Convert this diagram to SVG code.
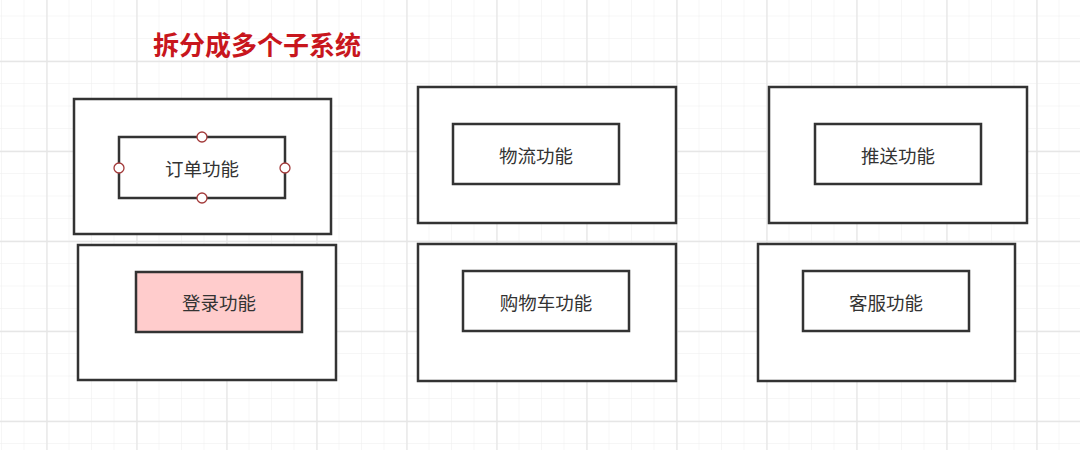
<svg xmlns="http://www.w3.org/2000/svg" width="1080" height="450" viewBox="0 0 1080 450">
  <defs>
    <pattern id="minor" x="2" y="-6" width="22.5" height="22.5" patternUnits="userSpaceOnUse">
      <path d="M22.5 0 V22.5 M0 22.5 H22.5" fill="none" stroke="#eeeeee" stroke-width="1"/>
    </pattern>
    <pattern id="major" x="2" y="-6" width="90" height="90" patternUnits="userSpaceOnUse">
      <path d="M45 0 V90 M0 67.5 H90" fill="none" stroke="#e6e6e6" stroke-width="1.3"/>
    </pattern>
    <style>
      .outer { fill: #ffffff; stroke: #333333; stroke-width: 2.5; }
      .inner { fill: #ffffff; stroke: #333333; stroke-width: 2.5; }
      .pink { fill: #ffcccc; }
      .label { font-family: "Noto Sans CJK SC", "Noto Sans", sans-serif; font-size: 18.5px; fill: #333333; text-anchor: middle; dominant-baseline: central; }
      .title { font-family: "Noto Sans CJK SC", sans-serif; font-size: 26px; font-weight: bold; fill: #c8161d; }
      .handle { fill: #ffffff; stroke: #a33a3a; stroke-width: 1.3; }
    </style>
  </defs>
  <rect width="1080" height="450" fill="#ffffff"/>
  <rect width="1080" height="450" fill="url(#minor)"/>
  <rect width="1080" height="450" fill="url(#major)"/>

  <text class="title" x="153" y="55">拆分成多个子系统</text>

  <g id="connectors"></g>

  <g id="order-system">
    <rect class="outer" x="74" y="99" width="257" height="135"/>
    <rect class="inner" x="119" y="137" width="166" height="61"/>
    <text class="label" x="202" y="168">订单功能</text>
    <circle class="handle" cx="202" cy="137" r="5"/>
    <circle class="handle" cx="202" cy="198" r="5"/>
    <circle class="handle" cx="119" cy="168" r="5"/>
    <circle class="handle" cx="285" cy="168" r="5"/>
  </g>

  <g id="login-system">
    <rect class="outer" x="78" y="245" width="258" height="135"/>
    <rect class="inner pink" x="136" y="272" width="166" height="60"/>
    <text class="label" x="219" y="302">登录功能</text>
  </g>

  <g id="logistics-system">
    <rect class="outer" x="418" y="87" width="258" height="136"/>
    <rect class="inner" x="453" y="124" width="166" height="60"/>
    <text class="label" x="536" y="155">物流功能</text>
  </g>

  <g id="cart-system">
    <rect class="outer" x="418" y="244" width="258" height="137"/>
    <rect class="inner" x="463" y="271" width="166" height="60"/>
    <text class="label" x="546" y="302">购物车功能</text>
  </g>

  <g id="push-system">
    <rect class="outer" x="769" y="87" width="258" height="136"/>
    <rect class="inner" x="815" y="124" width="166" height="60"/>
    <text class="label" x="898" y="155">推送功能</text>
  </g>

  <g id="service-system">
    <rect class="outer" x="758" y="244" width="257" height="137"/>
    <rect class="inner" x="803" y="271" width="166" height="60"/>
    <text class="label" x="886" y="302">客服功能</text>
  </g>
</svg>
